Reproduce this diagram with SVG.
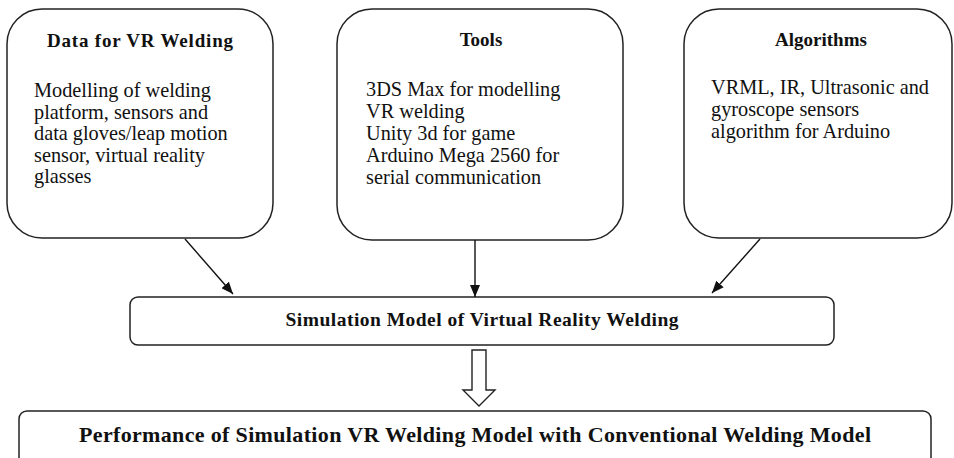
<svg xmlns="http://www.w3.org/2000/svg" width="954" height="458" viewBox="0 0 954 458">
<style>
.box{fill:#fff;stroke:#222;stroke-width:1.5}
.t{font-family:"Liberation Serif","Tinos","Noto Serif","DejaVu Serif","Times New Roman",serif;fill:#111}
.title{font-size:19px;font-weight:bold;text-anchor:middle}
.body{font-size:20.3px}
.main{font-size:19.5px;font-weight:bold;text-anchor:middle}
.big{font-size:22px;font-weight:bold;text-anchor:middle}
.conn{stroke:#111;stroke-width:1.4;fill:none}
</style>
<defs>
<marker id="ah" viewBox="0 0 12 10" refX="12" refY="5" markerWidth="12" markerHeight="10" markerUnits="userSpaceOnUse" orient="auto">
<path d="M0,0 L12,5 L0,10 Z" fill="#111"/>
</marker>
</defs>
<rect width="954" height="458" fill="#fff"/>
<g id="data">
<rect class="box" x="7" y="9" width="266" height="229" rx="35"/>
<text class="t title" x="140" y="47" textLength="186">Data for VR Welding</text>
<text class="t body" x="34" y="97">Modelling of welding</text>
<text class="t body" x="34" y="118.5">platform, sensors and</text>
<text class="t body" x="34" y="140">data gloves/leap motion</text>
<text class="t body" x="34" y="161.5">sensor, virtual reality</text>
<text class="t body" x="34" y="183">glasses</text>
</g>
<g id="tools">
<rect class="box" x="337" y="9" width="286" height="231" rx="35"/>
<text class="t title" x="481" y="46">Tools</text>
<text class="t body" x="366" y="96">3DS Max for modelling</text>
<text class="t body" x="366" y="118">VR welding</text>
<text class="t body" x="366" y="140">Unity 3d for game</text>
<text class="t body" x="366" y="162">Arduino Mega 2560 for</text>
<text class="t body" x="366" y="184">serial communication</text>
</g>
<g id="algorithms">
<rect class="box" x="684" y="9" width="268" height="229" rx="35"/>
<text class="t title" x="821" y="46">Algorithms</text>
<text class="t body" x="711" y="94">VRML, IR, Ultrasonic and</text>
<text class="t body" x="711" y="116">gyroscope sensors</text>
<text class="t body" x="711" y="138">algorithm for Arduino</text>
</g>
<g id="simulation">
<rect class="box" x="130" y="297" width="704" height="48" rx="8"/>
<text class="t main" x="482" y="326" textLength="393">Simulation Model of Virtual Reality Welding</text>
</g>
<g id="performance">
<rect class="box" x="19" y="411" width="912" height="56" rx="8"/>
<text class="t big" x="475" y="442" textLength="792">Performance of Simulation VR Welding Model with Conventional Welding Model</text>
</g>
<g id="connectors">
<line class="conn" x1="185" y1="239" x2="233" y2="294" marker-end="url(#ah)"/>
<line class="conn" x1="475" y1="240" x2="475" y2="297" marker-end="url(#ah)"/>
<line class="conn" x1="760" y1="239" x2="712" y2="293" marker-end="url(#ah)"/>
<polygon points="472,350 486,350 486,390 495,390 479,406 463,390 472,390" fill="#fff" stroke="#222" stroke-width="1.4"/>
</g>
</svg>
